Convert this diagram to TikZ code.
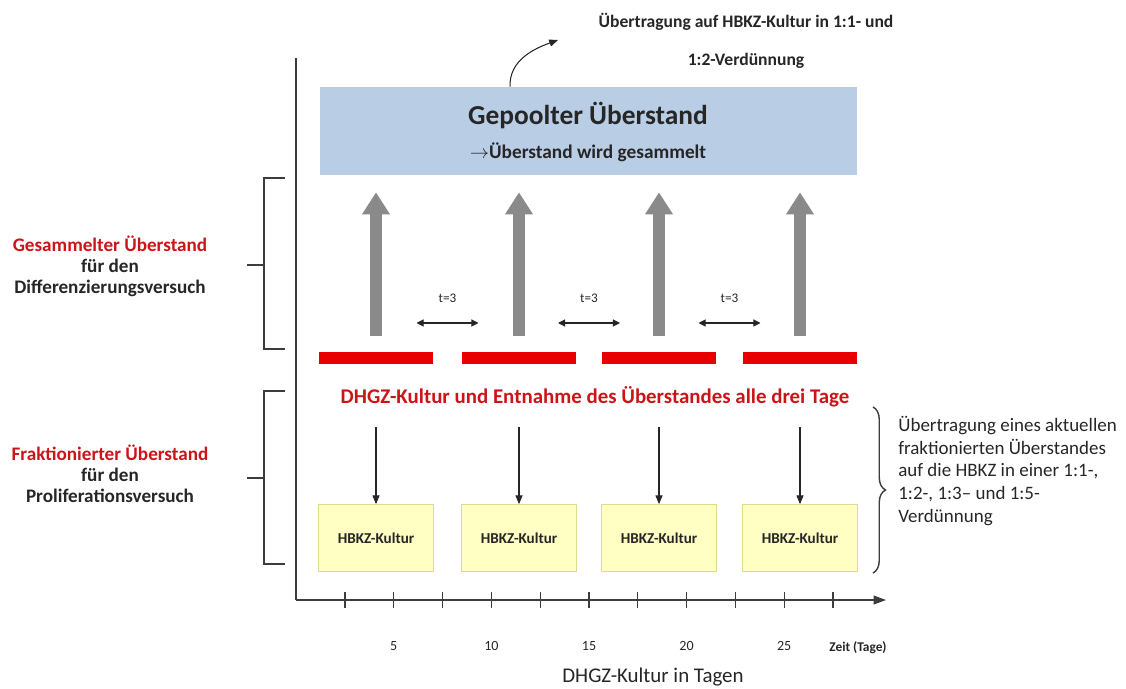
\documentclass[tikz,border=0pt]{standalone}
\usepackage{fontspec}
\setmainfont{Carlito}
\usetikzlibrary{arrows.meta,positioning,calc,decorations.pathreplacing}
\definecolor{poolblue}{HTML}{B9CDE5}
\definecolor{dhgzred}{HTML}{CC1418}
\definecolor{barred}{HTML}{E80000}
\definecolor{kultyellow}{HTML}{FFFFC4}
\definecolor{kultedge}{HTML}{DCDC8C}
\definecolor{flowgray}{HTML}{8A8A8A}
\definecolor{axisgray}{HTML}{3C3C3C}
\newcommand{\setfs}[2]{\fontsize{#1}{#2}\selectfont}

\begin{document}
\begin{tikzpicture}[x=0.02cm,y=-0.02cm,
  every node/.style={inner sep=0pt,text=black!85},
  pool/.style={fill=poolblue,minimum width=10.74cm,minimum height=1.76cm},
  bar/.style={fill=barred,minimum width=2.3cm,minimum height=0.26cm},
  kultur/.style={draw=kultedge,fill=kultyellow,minimum width=2.3cm,minimum height=1.34cm,font=\setfs{8.6}{10}\bfseries},
  bigarr/.style={flowgray,line width=6.8pt,-{Triangle[length=12.5pt,width=15pt]},shorten <=0.3cm,shorten >=0.34cm},
  thinarr/.style={black!85,line width=0.6pt,-{Triangle[length=5pt,width=4pt]},shorten <=0.38cm},
  dblarr/.style={black!85,line width=0.6pt,{Triangle[length=4pt,width=4pt]}-{Triangle[length=4pt,width=4pt]}},
  axis/.style={axisgray,line width=0.7pt},
  brk/.style={axisgray,line width=0.6pt},
  side/.style={align=center,font=\setfs{10.9}{12}\bfseries},
  num/.style={font=\setfs{8}{9}}]
  \useasboundingbox (0,0) rectangle (1126,689);
  % pooled supernatant
  \node[pool] (pool) at (588.5,131) {};
  \node[font=\setfs{15.6}{17}\bfseries] (gep) at (588,116) {Gepoolter Überstand};
  \node[font=\setfs{11}{12}\bfseries] (sam) at (588,152) {$\rightarrow$Überstand wird gesammelt};
  \node[align=center,font=\setfs{10}{21.5}\bfseries] (hbkz) at (746,41) {Übertragung auf HBKZ-Kultur in 1:1- und\\1:2-Verdünnung};
  \coordinate (cur) at (558,40);
  \draw[black!85,line width=0.6pt,-{Triangle[length=5pt,width=4pt]}] ([xshift=-1.57cm]pool.north) to[out=92,in=200] (cur);
  % DHGZ culture
  \node[font=\setfs{11.9}{13}\bfseries,text=dhgzred] (dh) at (595,397) {DHGZ-Kultur und Entnahme des Überstandes alle drei Tage};
  \foreach \i/\x in {1/376,2/519,3/659,4/800}{
    \node[bar] (r\i) at (\x,358) {};
    \node[kultur] (k\i) at (\x,538) {HBKZ-Kultur};
    \draw[bigarr] (r\i.north) -- (r\i.north |- pool.south);
    \draw[thinarr] (r\i.north |- dh.south) -- (k\i.north);
  }
  \foreach \i/\j in {1/2,2/3,3/4}{
    \path ($(r\i)!0.5!(r\j)$) ++(0,-60) node[font=\setfs{7.5}{9}] (t\i) {t=3};
    \coordinate (tl\i) at ([xshift=-0.62cm,yshift=-0.5cm]t\i.center);
    \coordinate (tr\i) at ([xshift=0.62cm,yshift=-0.5cm]t\i.center);
    \draw[dblarr] (tl\i) -- (tr\i);
  }
  % axes
  \coordinate (org) at (296,600);
  \coordinate (ytop) at (296,58);
  \coordinate (xend) at (886,600);
  \draw[axis] (ytop) -- (org);
  \draw[axis,-{Triangle[length=7pt,width=5pt]}] (org) -- (xend);
  \foreach \n in {0,...,10}
    \draw[axis] ($(org)+(49+48.8*\n,-8)$) -- ++(0,16);
  \foreach \n/\lab in {1/5,3/10,5/15,7/20,9/25}
    \node[num] (n\lab) at (345+48.8*\n,646) {\lab};
  \node[font=\setfs{7.6}{9}\bfseries] (zeit) at (858,648) {Zeit (Tage)};
  \node[font=\setfs{11.9}{13}] (xlab) at (653,677) {DHGZ-Kultur in Tagen};
  % left brackets
  \draw[brk] (285,178) -- (264,178) -- (264,349) -- (285,349);
  \draw[brk] (264,265) -- (247,265);
  \draw[brk] (285,391) -- (264,391) -- (264,564) -- (285,564);
  \draw[brk] (264,478) -- (247,478);
  \node[side] (ges) at (110,266) {\textcolor{dhgzred}{Gesammelter Überstand}\\für den\\Differenzierungsversuch};
  \node[side] (fra) at (110,474) {\textcolor{dhgzred}{Fraktionierter Überstand}\\für den\\Proliferationsversuch};
  % right brace
  \draw[brk,line width=0.8pt,decorate,decoration={brace,amplitude=0.25cm}] (873,407) -- (873,573);
  \node[anchor=west,align=left,font=\setfs{10.8}{13}] (ueb) at (898,471) {Übertragung eines aktuellen\\fraktionierten Überstandes\\auf die HBKZ in einer 1:1-,\\1:2-, 1:3-- und 1:5-\\Verdünnung};
\end{tikzpicture}
\end{document}
